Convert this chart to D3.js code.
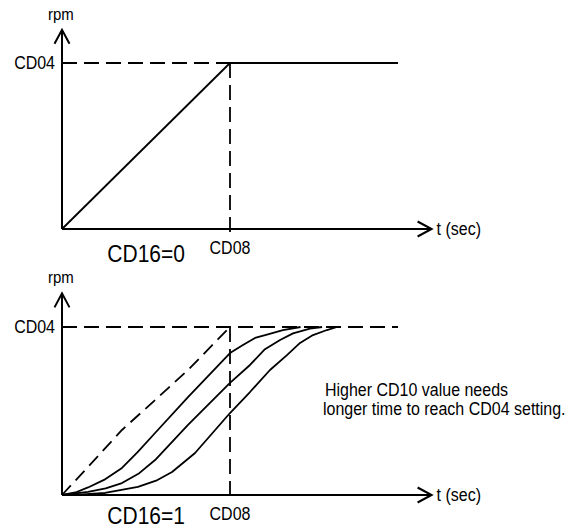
<!DOCTYPE html>
<html>
<head>
<meta charset="utf-8">
<script src="https://cdn.jsdelivr.net/npm/d3@7"></script>
<style>
  html, body { margin: 0; padding: 0; background: #fff; }
  svg { display: block; }
  text { font-family: "Liberation Sans", Arial, Helvetica, sans-serif; fill: #000; }
</style>
</head>
<body>
<script>
// ---- data (t in units of CD08, rpm in units of CD04) ----
const axisLabels = { y: "rpm", x: "t (sec)" };
const levelLabel = "CD04";
const timeLabel = "CD08";
const panelTitles = ["CD16=0", "CD16=1"];
const note = ["Higher CD10 value needs", "longer time to reach CD04 setting."];

// panel 1: linear acceleration
const linearRamp = [[0, 0], [1, 1]];
const linearHold = [[1, 1], [2, 1]];

// panel 2: S-curve acceleration
const sCurveRef = [[0, 0], [0.155, 0.167], [0.357, 0.387], [0.554, 0.565], [0.75, 0.744], [1, 1]];
const sCurveA = [[0, 0], [0.08, 0.015], [0.155, 0.045], [0.25, 0.09], [0.357, 0.161], [0.45, 0.255], [0.554, 0.369], [0.75, 0.583], [1, 0.845],
                 [1.077, 0.893], [1.149, 0.935], [1.22, 0.955], [1.315, 0.982], [1.42, 1]];
const sCurveB = [[0, 0], [0.155, 0.018], [0.26, 0.04], [0.357, 0.071], [0.46, 0.13], [0.554, 0.208], [0.75, 0.417], [1, 0.667],
                 [1.119, 0.774], [1.208, 0.868], [1.298, 0.923], [1.375, 0.962], [1.476, 0.99], [1.548, 1]];
const sCurveC = [[0, 0], [0.1, 0.002], [0.256, 0.012], [0.452, 0.048], [0.56, 0.085], [0.655, 0.137], [0.792, 0.25], [1, 0.488],
                 [1.119, 0.613], [1.238, 0.744], [1.339, 0.833], [1.417, 0.905], [1.494, 0.952],
                 [1.577, 0.982], [1.637, 1]];

// ---- drawing ----
const W = 578, H = 530;
const svg = d3.select("body").append("svg").attr("width", W).attr("height", H);

const x = d3.scaleLinear().domain([0, 1]).range([62, 230]);
const panels = [
  { y: d3.scaleLinear().domain([0, 1]).range([229, 63]) },
  { y: d3.scaleLinear().domain([0, 1]).range([495, 327]) }
];

const SW = 1.8;

function addText(g, tx, ty, size, str, anchor) {
  g.append("text")
    .attr("transform", `translate(${tx},${ty}) scale(1,1.12)`)
    .attr("font-size", size)
    .attr("text-anchor", anchor || "start")
    .text(str);
}

function arrowAxes(g, y) {
  const x0 = x(0), y0 = y(0);
  const xEnd = x(2.2), yEnd = y(1.2);
  g.append("line").attr("x1", x0).attr("y1", y0).attr("x2", xEnd).attr("y2", y0)
    .attr("stroke", "#000").attr("stroke-width", 2);
  g.append("line").attr("x1", x0).attr("y1", y0).attr("x2", x0).attr("y2", yEnd)
    .attr("stroke", "#000").attr("stroke-width", 2);
  g.append("path").attr("d", `M${xEnd - 14},${y0 - 7.5}L${xEnd},${y0}L${xEnd - 14},${y0 + 7.5}`)
    .attr("fill", "none").attr("stroke", "#000").attr("stroke-width", 2);
  g.append("path").attr("d", `M${x0 - 7.5},${yEnd + 14}L${x0},${yEnd}L${x0 + 7.5},${yEnd + 14}`)
    .attr("fill", "none").attr("stroke", "#000").attr("stroke-width", 2);
  addText(g, x0 - 14, yEnd - 10, 15, axisLabels.y);
  addText(g, xEnd + 5, y0 + 6, 16, axisLabels.x);
  addText(g, x0 - 7, y(1) + 6, 16, levelLabel, "end");
  addText(g, x(1), y0 + 25, 16, timeLabel, "middle");
}

function guide(g, y, hEnd) {
  g.append("line").attr("x1", x(0)).attr("y1", y(1)).attr("x2", x(hEnd)).attr("y2", y(1))
    .attr("stroke", "#000").attr("stroke-width", SW).attr("stroke-dasharray", "15,7");
  g.append("line").attr("x1", x(1)).attr("y1", y(1)).attr("x2", x(1)).attr("y2", y(-0.04))
    .attr("stroke", "#000").attr("stroke-width", SW).attr("stroke-dasharray", "15,7");
}

// Panel 1
{
  const y = panels[0].y;
  const g = svg.append("g");
  guide(g, y, 1);
  const line = d3.line().x(d => x(d[0])).y(d => y(d[1]));
  g.append("path").attr("d", line(linearRamp)).attr("fill", "none").attr("stroke", "#000").attr("stroke-width", SW);
  g.append("path").attr("d", line(linearHold)).attr("fill", "none").attr("stroke", "#000").attr("stroke-width", SW);
  arrowAxes(g, y);
  addText(g, x(0.27), y(0) + 33, 21, panelTitles[0]);
}

// Panel 2
{
  const y = panels[1].y;
  const g = svg.append("g");
  guide(g, y, 2);
  const line = d3.line().x(d => x(d[0])).y(d => y(d[1]));
  g.append("path").attr("d", line(sCurveRef)).attr("fill", "none").attr("stroke", "#000")
    .attr("stroke-width", SW).attr("stroke-dasharray", "13,7");
  [sCurveA, sCurveB, sCurveC].forEach(c => {
    g.append("path").attr("d", line(c)).attr("fill", "none").attr("stroke", "#000")
      .attr("stroke-width", SW).attr("stroke-linejoin", "round");
  });
  arrowAxes(g, y);
  addText(g, x(0.27), y(0) + 29, 21, panelTitles[1]);
  addText(g, 325, 396, 16, note[0]);
  addText(g, 323, 415, 16, note[1]);
}
</script>
</body>
</html>
